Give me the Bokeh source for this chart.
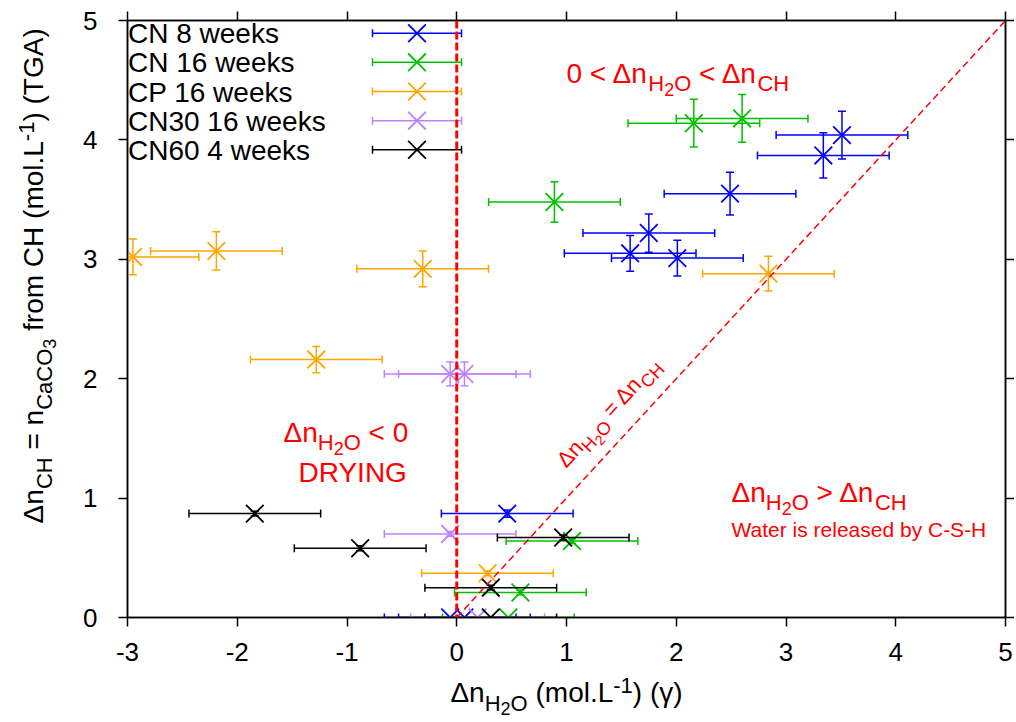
import math
from bokeh.plotting import figure
from bokeh.layouts import row, column
from bokeh.models import (ColumnDataSource, Span, Slope, Label, LinearAxis, FixedTicker, Range1d)
from bokeh.embed import file_html
from bokeh.resources import INLINE

# ---------------- data ----------------
x_ticks = [-3, -2, -1, 0, 1, 2, 3, 4, 5]
x_tick_labels = ["-3", "-2", "-1", "0", "1", "2", "3", "4", "5"]
y_ticks = [0, 1, 2, 3, 4, 5]
y_tick_labels = ["0", "1", "2", "3", "4", "5"]

series_names = ["CN 8 weeks", "CN 16 weeks", "CP 16 weeks", "CN30 16 weeks", "CN60 4 weeks"]
series_colors = ["#0000ff", "#00c000", "#ffa500", "#c080ff", "#000000"]

cn8_x = [3.51, 3.34, 2.49, 1.75, 1.58, 2.01, 0.46, -0.06, 0.07]
cn8_y = [4.04, 3.87, 3.55, 3.22, 3.05, 3.01, 0.87, 0.00, 0.00]
cn8_xerr = [0.60, 0.60, 0.60, 0.60, 0.60, 0.60, 0.60, 0.60, 0.60]
cn8_yerr = [0.20, 0.19, 0.18, 0.16, 0.15, 0.15, 0.03, 0.00, 0.00]

cn16_x = [2.60, 2.16, 0.89, 1.05, 0.58, 0.47]
cn16_y = [4.18, 4.14, 3.48, 0.64, 0.21, 0.00]
cn16_xerr = [0.60, 0.60, 0.60, 0.60, 0.60, 0.60]
cn16_yerr = [0.20, 0.20, 0.17, 0.02, 0.02, 0.00]

cp16_x = [-2.95, -2.19, -0.31, -1.28, 2.84, 0.28]
cp16_y = [3.02, 3.07, 2.92, 2.16, 2.88, 0.37]
cp16_xerr = [0.60, 0.60, 0.60, 0.60, 0.60, 0.60]
cp16_yerr = [0.15, 0.16, 0.15, 0.11, 0.145, 0.02]

cn30_x = [-0.06, 0.07, -0.06, 0.19]
cn30_y = [2.04, 2.04, 0.70, 0.00]
cn30_xerr = [0.60, 0.60, 0.60, 0.61]
cn30_yerr = [0.10, 0.10, 0.02, 0.00]

cn60_x = [-1.84, -0.88, 0.97, 0.31, 0.31]
cn60_y = [0.87, 0.58, 0.67, 0.25, 0.00]
cn60_xerr = [0.60, 0.60, 0.60, 0.60, 0.60]
cn60_yerr = [0.02, 0.02, 0.02, 0.02, 0.00]

series_data = [
    (cn8_x, cn8_y, cn8_xerr, cn8_yerr),
    (cn16_x, cn16_y, cn16_xerr, cn16_yerr),
    (cp16_x, cp16_y, cp16_xerr, cp16_yerr),
    (cn30_x, cn30_y, cn30_xerr, cn30_yerr),
    (cn60_x, cn60_y, cn60_xerr, cn60_yerr),
]

# ---------------- layout constants (page pixels) ----------------
FONT = "Liberation Sans"
RED = "#ff0000"
YLAB_W = 60
MAIN_W, MAIN_H = 954, 672
XLAB_H = 48
FRAME_L, FRAME_T, FRAME_R, FRAME_B = 127, 20, 1005, 617
BL = FRAME_L - YLAB_W
BR = MAIN_W - (FRAME_R - YLAB_W)
BT = FRAME_T
BB = MAIN_H - FRAME_B
XMIN, XMAX, YMIN, YMAX = -3, 5, 0, 5
frame_w = FRAME_R - FRAME_L
frame_h = FRAME_B - FRAME_T
PPX = frame_w / (XMAX - XMIN)
PPY = frame_h / (YMAX - YMIN)


def dx(px):
    return XMIN + (px - FRAME_L) / PPX


def dy(py):
    return YMAX - (py - FRAME_T) / PPY


p = figure(width=MAIN_W, height=MAIN_H, x_range=Range1d(XMIN, XMAX), y_range=Range1d(YMIN, YMAX),
           output_backend="svg", toolbar_location=None,
           min_border_left=BL, min_border_right=BR, min_border_top=BT, min_border_bottom=BB)
p.xgrid.visible = False
p.ygrid.visible = False
p.outline_line_color = "black"
p.outline_line_width = 1.5
p.background_fill_color = "white"
p.border_fill_color = "white"


def style_axis(ax, ticks, labels, show_labels=True):
    ax.ticker = FixedTicker(ticks=ticks, minor_ticks=[])
    ax.axis_line_width = 1.5
    ax.axis_line_color = "black"
    ax.major_tick_line_width = 1.5
    ax.major_tick_line_color = "black"
    ax.major_tick_out = 9
    ax.major_tick_in = 0
    ax.minor_tick_out = 0
    ax.minor_tick_in = 0
    if show_labels:
        ax.major_label_overrides = {t: l for t, l in zip(ticks, labels)}
        ax.major_label_text_font = FONT
        ax.major_label_text_font_size = "26px"
        ax.major_label_text_color = "black"
    else:
        ax.major_label_overrides = {t: "" for t in ticks}
        ax.major_label_text_color = None
        ax.major_label_text_font_size = "1px"
        ax.major_label_standoff = 0


style_axis(p.xaxis[0], x_ticks, x_tick_labels)
p.xaxis[0].major_label_standoff = 16
style_axis(p.yaxis[0], y_ticks, y_tick_labels)
p.yaxis[0].major_label_standoff = 21

top_ax = LinearAxis()
style_axis(top_ax, x_ticks, x_tick_labels, show_labels=False)
p.add_layout(top_ax, "above")
right_ax = LinearAxis()
style_axis(right_ax, y_ticks, y_tick_labels, show_labels=False)
p.add_layout(right_ax, "right")

# ---------------- series ----------------
MARK = 25


def draw_errbars(xs, ys, xe, ye, color):
    xlo = [x - e for x, e in zip(xs, xe)]
    xhi = [x + e for x, e in zip(xs, xe)]
    src = ColumnDataSource(dict(x=xs, y=ys, xlo=xlo, xhi=xhi))
    p.segment(x0="xlo", y0="y", x1="xhi", y1="y", source=src, line_color=color, line_width=1.5)
    cap_src = ColumnDataSource(dict(cx=xlo + xhi, cy=list(ys) + list(ys)))
    p.scatter(x="cx", y="cy", source=cap_src, marker="dash", angle=math.pi / 2,
              size=8, line_color=color, line_width=1.5)
    yx = [x for x, e in zip(xs, ye) if e > 0]
    ylo = [y - e for y, e in zip(ys, ye) if e > 0]
    yhi = [y + e for y, e in zip(ys, ye) if e > 0]
    if yx:
        ysrc = ColumnDataSource(dict(x=yx, ylo=ylo, yhi=yhi))
        p.segment(x0="x", y0="ylo", x1="x", y1="yhi", source=ysrc, line_color=color, line_width=1.5)
        ycap = ColumnDataSource(dict(cx=yx + yx, cy=ylo + yhi))
        p.scatter(x="cx", y="cy", source=ycap, marker="dash", size=8, line_color=color, line_width=1.5)
    p.scatter(x="x", y="y", source=src, marker="x", size=MARK, line_color=color, line_width=1.8)


for color, (xs, ys, xe, ye) in zip(series_colors, series_data):
    draw_errbars(xs, ys, xe, ye, color)

# ---------------- rich text helper ----------------
ADV = {" ": 278, "(": 333, ")": 333, "-": 333, ".": 278, "=": 584, "<": 584, ">": 584,
       "0": 556, "1": 556, "2": 556, "3": 556, "4": 556, "5": 556, "6": 556, "7": 556,
       "8": 556, "9": 556, "A": 667, "C": 722, "D": 722, "G": 778, "H": 722, "I": 278,
       "L": 556, "N": 722, "O": 778, "P": 667, "R": 722, "S": 667, "T": 611, "W": 944,
       "Y": 667, "a": 556, "b": 556, "c": 500, "d": 556, "e": 556, "f": 278, "i": 222,
       "k": 500, "l": 222, "m": 833, "n": 556, "o": 556, "r": 333, "s": 500, "t": 278,
       "w": 722, "y": 500, "\u0394": 668, "\u03b3": 500}
BFIX = 0.35  # lifts the drawn text so its baseline sits on the anchor


def tw(s, fs):
    return sum(ADV.get(ch, 556) for ch in s) * fs / 1000.0


def rich_len(parts, fs):
    return sum(tw(t, int(round(fs * s))) for t, s, _ in parts)


def rich(fig, x, y, parts, fs, color, angle=0.0):
    ca, sa = math.cos(angle), math.sin(angle)
    d = 0.0
    for txt, scale, rise in parts:
        size = int(round(fs * scale))
        up = rise * fs + BFIX * size
        core = txt.strip(" ")
        lead = len(txt) - len(txt.lstrip(" "))
        trail = len(txt) - len(txt.rstrip(" "))
        d += lead * tw(" ", size)
        fig.add_layout(Label(x=x, y=y, text=core, x_offset=d * ca - up * sa,
                             y_offset=d * sa + up * ca, angle=angle,
                             text_font=FONT, text_font_size=f"{size}px",
                             text_color=color, text_baseline="alphabetic", text_align="left"))
        d += tw(core, size) + trail * tw(" ", size)


# ---------------- key (gnuplot style: text left, sample right) ----------------
KEY_ROW0, KEY_STEP = 32.7, 29.15
key_rows = [KEY_ROW0 + KEY_STEP * k for k in range(len(series_names))]
key_lo, key_hi = dx(372), dx(461)
key_mid = (key_lo + key_hi) / 2
for name, color, ry in zip(series_names, series_colors, key_rows):
    ks = ColumnDataSource(dict(x=[key_mid], y=[dy(ry)], xlo=[key_lo], xhi=[key_hi]))
    p.segment(x0="xlo", y0="y", x1="xhi", y1="y", source=ks, line_color=color, line_width=1.5)
    kc = ColumnDataSource(dict(cx=[key_lo, key_hi], cy=[dy(ry), dy(ry)]))
    p.scatter(x="cx", y="cy", source=kc, marker="dash", angle=math.pi / 2, size=8,
              line_color=color, line_width=1.5)
    p.scatter(x="x", y="y", source=ks, marker="x", size=MARK, line_color=color, line_width=1.8)
    rich(p, dx(FRAME_L + 0.5), dy(ry + 10.3), [(name, 1, 0)], 28, "black")

# ---------------- reference lines ----------------
p.add_layout(Span(location=0, dimension="height", line_color=RED, line_width=3, line_dash="8 3"))
p.add_layout(Slope(gradient=1, y_intercept=0, line_color=RED, line_width=1.5, line_dash="7 4"))

SUB = -0.3
SUBSUB = -0.45
SUP = 0.35
dn = "\u0394n"
h2o = [("H", 0.8, SUB), ("2", 0.64, SUBSUB), ("O", 0.8, SUB)]

rich(p, dx(566), dy(82.3), [("0 < " + dn, 1, 0)] + h2o + [(" < " + dn, 1, 0), ("CH", 0.8, SUB)], 28, RED)
rich(p, dx(283), dy(441.7), [(dn, 1, 0)] + h2o + [(" < 0", 1, 0)], 28, RED)
rich(p, dx(298), dy(481.7), [("DRYING", 1, 0)], 28, RED)
rich(p, dx(731), dy(501.7), [(dn, 1, 0)] + h2o + [(" > " + dn, 1, 0), ("CH", 0.8, SUB)], 28, RED)
rich(p, dx(731), dy(536.7), [("Water is released by C-S-H", 1, 0)], 21, RED)

diag_angle = math.atan(PPY / PPX)
rich(p, dx(566), dy(468.3), [(dn, 1, 0)] + h2o + [(" = " + dn, 1, 0), ("CH", 0.8, SUB)], 22, RED,
     angle=diag_angle)

# ---------------- axis titles (own strips so they are not clipped) ----------------
AXIS_FS = 28
ylab_parts = [(dn, 1, 0), ("CH", 0.8, SUB), (" = n", 1, 0), ("CaCO", 0.8, SUB),
              ("3", 0.64, SUBSUB), (" from CH (mol.L", 1, 0), ("-1", 0.8, SUP), (") (TGA)", 1, 0)]
xlab_parts = [(dn, 1, 0)] + h2o + [(" (mol.L", 1, 0), ("-1", 0.8, SUP), (") (\u03b3)", 1, 0)]

ylab = figure(width=YLAB_W, height=MAIN_H, x_range=Range1d(0, YLAB_W), y_range=Range1d(0, MAIN_H),
              output_backend="svg", toolbar_location=None, x_axis_location=None,
              y_axis_location=None, min_border=0)
ylab.grid.visible = False
ylab.outline_line_color = None
y_start_page = (FRAME_T + FRAME_B) / 2 + rich_len(ylab_parts, AXIS_FS) / 2
rich(ylab, 43, MAIN_H - y_start_page, ylab_parts, AXIS_FS, "black", angle=math.pi / 2)

total_w = YLAB_W + MAIN_W
xlab = figure(width=total_w, height=XLAB_H, x_range=Range1d(0, total_w), y_range=Range1d(0, XLAB_H),
              output_backend="svg", toolbar_location=None, x_axis_location=None,
              y_axis_location=None, min_border=0)
xlab.grid.visible = False
xlab.outline_line_color = None
x_start_page = (FRAME_L + FRAME_R) / 2 - rich_len(xlab_parts, AXIS_FS) / 2
rich(xlab, x_start_page, MAIN_H + XLAB_H - 702, xlab_parts, AXIS_FS, "black")

layout = column(row(ylab, p, spacing=0), xlab, spacing=0)
open("out.html", "w").write(file_html(layout, INLINE))
